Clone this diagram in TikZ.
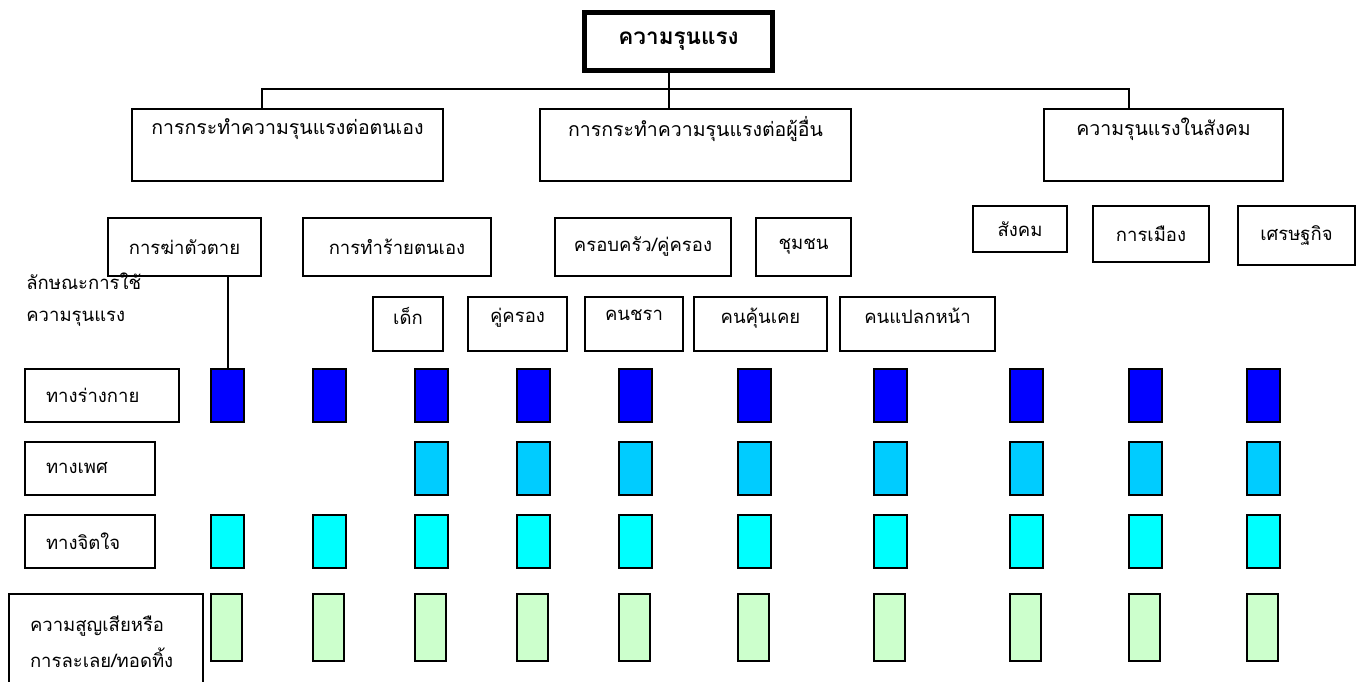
\documentclass[tikz,border=0pt]{standalone}
\usepackage{fontspec}
\newfontfamily\thaifont[Script=Thai]{Loma}
\usepackage{xcolor}
\usepackage{tikz}
\definecolor{physblue}{HTML}{0000FF}
\definecolor{sexblue}{HTML}{00CCFF}
\definecolor{mindcyan}{HTML}{00FFFF}
\definecolor{lossgreen}{HTML}{CCFFCC}

\begin{document}
\begin{tikzpicture}[x=1pt,y=-1pt,line width=2pt]
  \tikzstyle{box} = [draw,font=\thaifont\fontsize{18.5}{22}\selectfont,inner sep=2pt]
  \tikzstyle{root} = [box,line width=5pt,font=\thaifont\bfseries\fontsize{22.5}{26}\selectfont,minimum width=188pt,minimum height=58pt]
  \tikzstyle{branch} = [box,font=\thaifont\fontsize{19.5}{23}\selectfont,minimum height=72pt,text depth=37pt]
  \tikzstyle{kind} = [box,minimum height=58pt]
  \tikzstyle{victim} = [box,minimum height=54pt,text depth=17pt]
  \tikzstyle{form} = [box,minimum height=53pt,inner xsep=21pt,align=left]
  \tikzstyle{bar} = [draw,minimum width=33pt,minimum height=53pt,inner sep=0pt]
  \tikzstyle{lossbar} = [bar,fill=lossgreen,minimum width=31pt,minimum height=67pt]
  %
  \useasboundingbox (0,0) rectangle (1363,682);
  % Top of the tree.
  \node[root] (violence) at (678.5,41.5) {ความรุนแรง};
  \node[branch,minimum width=311pt] (self) at (287.5,145) {การกระทำความรุนแรงต่อตนเอง};
  \node[branch,minimum width=311pt] (others) at (695.5,145) {การกระทำความรุนแรงต่อผู้อื่น};
  \node[branch,minimum width=239pt] (society) at (1163.5,145) {ความรุนแรงในสังคม};
  % Second level.
  \node[kind,minimum width=153pt] (suicide) at (184.5,247) {การฆ่าตัวตาย};
  \node[kind,minimum width=188pt] (selfharm) at (397,247) {การทำร้ายตนเอง};
  \node[kind,minimum width=176pt] (family) at (643,247) {ครอบครัว/คู่ครอง};
  \node[kind,minimum width=95pt] (community) at (803.5,247) {ชุมชน};
  \node[kind,minimum width=94pt,minimum height=46pt] (social) at (1020,229) {สังคม};
  \node[kind,minimum width=116pt,minimum height=56pt] (politics) at (1151,234) {การเมือง};
  \node[kind,minimum width=117pt,minimum height=59pt] (economy) at (1296.5,235.5) {เศรษฐกิจ};
  % Third level.
  \node[victim,minimum width=70pt] (child) at (408,324) {เด็ก};
  \node[victim,minimum width=99pt] (partner) at (517.5,324) {คู่ครอง};
  \node[victim,minimum width=98pt] (elder) at (634,324) {คนชรา};
  \node[victim,minimum width=133pt] (known) at (760.5,324) {คนคุ้นเคย};
  \node[victim,minimum width=155pt] (stranger) at (917.5,324) {คนแปลกหน้า};
  % Forms of violence.
  \node[align=left,font=\thaifont\fontsize{18.5}{32}\selectfont,anchor=west] (forms) at (22,300) {ลักษณะการใช้\\ความรุนแรง};
  \node[form,text width=112pt] (physical) at (102,395.5) {ทางร่างกาย};
  \node[form,text width=88pt] (sexual) at (90,468.5) {ทางเพศ};
  \node[form,text width=88pt] (mental) at (90,541.5) {ทางจิตใจ};
  \node[form,text width=152pt,minimum height=96pt,font=\thaifont\fontsize{18.5}{36}\selectfont] (neglect) at (106,641.5) {ความสูญเสียหรือ\\การละเลย/ทอดทิ้ง};
  % First row.
  \node[bar,fill=physblue] (A1) at (227.5,395.5) {}; \node[bar,fill=physblue] (A2) at (329.5,395.5) {};
  \node[bar,fill=physblue] (A3) at (431.5,395.5) {}; \node[bar,fill=physblue] (A4) at (533.5,395.5) {};
  \node[bar,fill=physblue] (A5) at (635.5,395.5) {}; \node[bar,fill=physblue] (A6) at (754.5,395.5) {};
  \node[bar,fill=physblue] (A7) at (890.5,395.5) {}; \node[bar,fill=physblue] (A8) at (1026.5,395.5) {};
  \node[bar,fill=physblue] (A9) at (1145.5,395.5) {}; \node[bar,fill=physblue] (A10) at (1263.5,395.5) {};
  % Second row.
  \node[bar,fill=sexblue] (B3) at (431.5,468.5) {}; \node[bar,fill=sexblue] (B4) at (533.5,468.5) {};
  \node[bar,fill=sexblue] (B5) at (635.5,468.5) {}; \node[bar,fill=sexblue] (B6) at (754.5,468.5) {};
  \node[bar,fill=sexblue] (B7) at (890.5,468.5) {}; \node[bar,fill=sexblue] (B8) at (1026.5,468.5) {};
  \node[bar,fill=sexblue] (B9) at (1145.5,468.5) {}; \node[bar,fill=sexblue] (B10) at (1263.5,468.5) {};
  % Third row.
  \node[bar,fill=mindcyan] (C1) at (227.5,541.5) {}; \node[bar,fill=mindcyan] (C2) at (329.5,541.5) {};
  \node[bar,fill=mindcyan] (C3) at (431.5,541.5) {}; \node[bar,fill=mindcyan] (C4) at (533.5,541.5) {};
  \node[bar,fill=mindcyan] (C5) at (635.5,541.5) {}; \node[bar,fill=mindcyan] (C6) at (754.5,541.5) {};
  \node[bar,fill=mindcyan] (C7) at (890.5,541.5) {}; \node[bar,fill=mindcyan] (C8) at (1026.5,541.5) {};
  \node[bar,fill=mindcyan] (C9) at (1145.5,541.5) {}; \node[bar,fill=mindcyan] (C10) at (1263.5,541.5) {};
  % Fourth row.
  \node[lossbar] (D1) at (226.5,627.5) {}; \node[lossbar] (D2) at (328.5,627.5) {};
  \node[lossbar] (D3) at (430.5,627.5) {}; \node[lossbar] (D4) at (532.5,627.5) {};
  \node[lossbar] (D5) at (634.5,627.5) {}; \node[lossbar] (D6) at (753.5,627.5) {};
  \node[lossbar] (D7) at (889.5,627.5) {}; \node[lossbar] (D8) at (1025.5,627.5) {};
  \node[lossbar] (D9) at (1144.5,627.5) {}; \node[lossbar] (D10) at (1262.5,627.5) {};
  % Lines.
  \coordinate (midbus) at (669,89);
  \coordinate (leftbus) at (262,89);
  \coordinate (rightbus) at (1129,89);
  \draw (violence.south -| midbus) -- (others.north -| midbus);
  \draw (self.north -| leftbus) |- (rightbus) -- (society.north -| rightbus);
  \draw (suicide.south -| A1) -- (A1.north);
\end{tikzpicture}
\end{document}
